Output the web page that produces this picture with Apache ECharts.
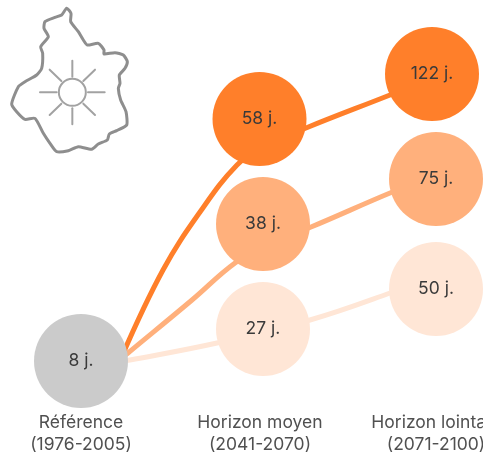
<!DOCTYPE html>
<html><head><meta charset="utf-8">
<style>html,body{margin:0;padding:0;background:#fff}#c{width:483px;height:454px}</style>
<script src="https://cdn.jsdelivr.net/npm/echarts@6/dist/echarts.min.js"></script>
</head><body><div id="c"></div>
<script>
const periods = ['Référence\n(1976-2005)', 'Horizon moyen\n(2041-2070)', 'Horizon lointain\n(2071-2100)'];
const periodX = [81, 260, 436];
const refDays = 8;
const highDays = [58, 122];
const midDays = [38, 75];
const lowDays = [27, 50];
// schematic positions (the original is not drawn to a value scale)
const refLevel = 93;
const highLevels = [335, 380];
const midLevels = [230, 275];
const lowLevels = [125, 165];
const highX = [259.5, 432];
const sideX = [263, 436];
const highPath = [[122,356],[163,270],[200,212],[237,165],[263,147],[306,128],[390,95],[432,78]];
const midPath = [[122,358],[128,353],[192,300],[235,263],[270,243],[311,227],[390,193],[436,175]];
const lowPath = [[122,361],[130,360],[217,343],[310,320],[390,293],[436,275]];
const colors = {ref:'#CBCBCB', high:'#FF7F2A', mid:'#FFB07C', low:'#FFE6D6'};
const outline = [[200,25],[213,40],[212,65],[235,95],[250,120],[262,135],[295,130],[312,150],[312,162],[345,158],[370,165],[382,185],[375,205],[358,225],[360,250],[355,265],[362,300],[378,335],[380,375],[350,392],[328,402],[322,420],[295,432],[275,448],[235,440],[205,452],[170,455],[150,430],[130,400],[105,355],[75,358],[50,335],[35,312],[55,260],[75,245],[110,225],[125,205],[128,160],[122,140],[145,110],[132,85],[135,65],[165,52],[185,45]].map(p=>[p[0]/3,p[1]/3]);
const rays = [[217,182,217,230],[217,325,217,373],[120,277,170,277],[264,277,314,277],[149,209,184,243],[285,209,250,243],[149,345,184,311],[285,345,250,311]];

const iconStyle = {stroke:'#8e8e8e', fill:'none', lineWidth:3, lineCap:'round', lineJoin:'round'};
const sunStyle = {...iconStyle, stroke:'#a2a2a2', lineWidth:2};
const graphic = [
  {type:'polygon', shape:{points:outline, smooth:0.2}, style:iconStyle, silent:true},
  {type:'circle', shape:{cx:217/3, cy:277/3, r:13.5}, style:sunStyle, silent:true},
  ...rays.map(r=>({type:'line', shape:{x1:r[0]/3,y1:r[1]/3,x2:r[2]/3,y2:r[3]/3}, style:sunStyle, silent:true}))
];
const plotH = 454;
const lineSeries = (path, color) => ({
  type:'line', smooth:0.4, showSymbol:false, z:1, silent:true,
  lineStyle:{color, width:5},
  data:path.map(p=>[p[0], plotH-p[1]])
});
const bubble = (x, y, v, color) => ({value:[x,y], days:v, itemStyle:{color,opacity:1}});
const bubbles = [
  ...lowDays.map((v,i)=>bubble(sideX[i], lowLevels[i], v, colors.low)),
  ...midDays.map((v,i)=>bubble(sideX[i], midLevels[i], v, colors.mid)),
  ...highDays.map((v,i)=>bubble(highX[i], highLevels[i], v, colors.high)),
  bubble(periodX[0], refLevel, refDays, colors.ref)
];
const chart = echarts.init(document.getElementById('c'), null, {renderer:'canvas'});
chart.setOption({
  animation:false,
  backgroundColor:'#fff',
  graphic,
  grid:{left:0,right:0,top:0,bottom:46,outerBoundsMode:'none',containLabel:false},
  xAxis:{type:'value',min:0,max:483,splitLine:{show:false},axisLine:{show:false},axisTick:{show:false},
    axisLabel:{customValues:periodX,margin:4,color:'#505050',fontFamily:'Inter',fontSize:17.5,lineHeight:22,hideOverlap:false,
      formatter:(v)=>periods[periodX.indexOf(v)]||''}},
  yAxis:{type:'value',min:46,max:454,show:false},
  series:[
    lineSeries(lowPath, colors.low),
    lineSeries(midPath, colors.mid),
    lineSeries(highPath, colors.high),
    {type:'scatter',z:3,symbol:'circle',symbolSize:94,clip:false,silent:true,
     data:bubbles,
     label:{show:true,position:'inside',color:'#3a3a3a',fontFamily:'Inter',fontSize:17.5,
       formatter:(p)=>p.data.days+' j.'}}
  ]
});
</script></body></html>
